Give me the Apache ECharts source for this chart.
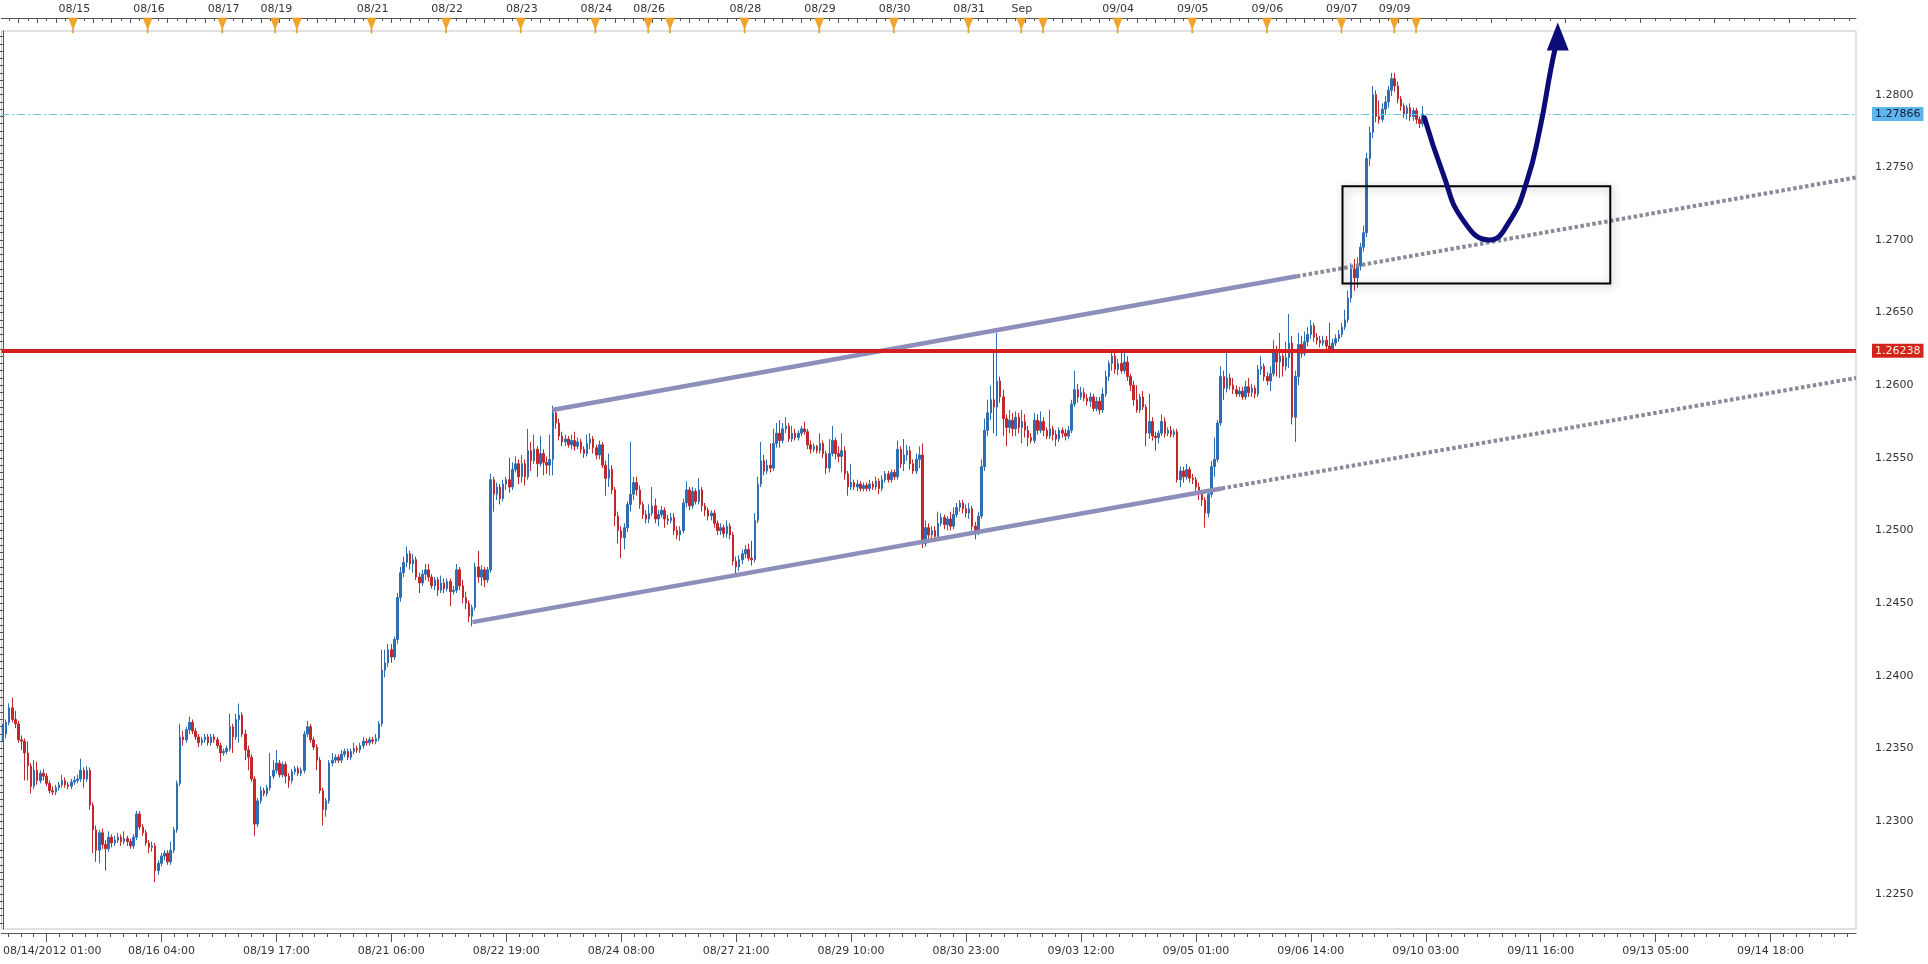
<!DOCTYPE html>
<html><head><meta charset="utf-8">
<script src="https://cdn.jsdelivr.net/npm/echarts@6/dist/echarts.min.js"></script>
<style>html,body{margin:0;padding:0;background:#fff}#c{width:1928px;height:964px}</style>
</head><body><div id="c"></div><script>
// ---- data ----
// hourly candles, first bar 08/14/2012 01:00 : [open, close, low, high]
const candles = [
[1.2356,1.2360,1.2355,1.2367],[1.2360,1.2368,1.2357,1.2370],[1.2368,1.2378,1.2366,1.2381],[1.2378,1.2370,1.2368,1.2385],[1.2370,1.2367,1.2364,1.2376],
[1.2367,1.2356,1.2354,1.2369],[1.2356,1.2355,1.2349,1.2359],[1.2355,1.2347,1.2328,1.2357],[1.2347,1.2338,1.2328,1.2355],[1.2338,1.2324,1.2319,1.2340],
[1.2324,1.2335,1.2322,1.2342],[1.2335,1.2328,1.2325,1.2341],[1.2328,1.2333,1.2326,1.2335],[1.2333,1.2331,1.2328,1.2336],[1.2331,1.2326,1.2324,1.2333],
[1.2326,1.2321,1.2319,1.2328],[1.2321,1.2320,1.2318,1.2324],[1.2320,1.2323,1.2318,1.2325],[1.2323,1.2325,1.2321,1.2327],[1.2325,1.2328,1.2323,1.2332],
[1.2328,1.2325,1.2323,1.2330],[1.2325,1.2324,1.2322,1.2327],[1.2324,1.2327,1.2322,1.2329],[1.2327,1.2328,1.2325,1.2331],[1.2328,1.2329,1.2326,1.2332],
[1.2329,1.2335,1.2327,1.2343],[1.2335,1.2329,1.2323,1.2337],[1.2329,1.2335,1.2327,1.2338],[1.2335,1.2311,1.2308,1.2337],[1.2311,1.2294,1.2278,1.2313],
[1.2294,1.2280,1.2272,1.2297],[1.2280,1.2292,1.2271,1.2294],[1.2292,1.2284,1.2281,1.2295],[1.2284,1.2281,1.2266,1.2287],[1.2281,1.2289,1.2279,1.2293],
[1.2289,1.2285,1.2282,1.2291],[1.2285,1.2287,1.2283,1.2290],[1.2287,1.2289,1.2285,1.2292],[1.2289,1.2286,1.2283,1.2291],[1.2286,1.2288,1.2284,1.2293],
[1.2288,1.2286,1.2283,1.2290],[1.2286,1.2283,1.2281,1.2288],[1.2283,1.2289,1.2281,1.2291],[1.2289,1.2305,1.2287,1.2307],[1.2305,1.2296,1.2294,1.2307],
[1.2296,1.2292,1.2290,1.2298],[1.2292,1.2285,1.2283,1.2294],[1.2285,1.2282,1.2278,1.2287],[1.2282,1.2283,1.2279,1.2286],[1.2283,1.2266,1.2258,1.2285],
[1.2266,1.2271,1.2263,1.2273],[1.2271,1.2276,1.2269,1.2278],[1.2276,1.2278,1.2273,1.2280],[1.2278,1.2272,1.2270,1.2280],[1.2272,1.2280,1.2270,1.2286],
[1.2280,1.2294,1.2278,1.2296],[1.2294,1.2326,1.2292,1.2328],[1.2326,1.2358,1.2324,1.2367],[1.2358,1.2356,1.2352,1.2362],[1.2356,1.2363,1.2354,1.2365],
[1.2363,1.2368,1.2360,1.2372],[1.2368,1.2362,1.2360,1.2370],[1.2362,1.2358,1.2356,1.2364],[1.2358,1.2354,1.2351,1.2360],[1.2354,1.2356,1.2352,1.2358],
[1.2356,1.2358,1.2354,1.2360],[1.2358,1.2354,1.2352,1.2360],[1.2354,1.2358,1.2352,1.2360],[1.2358,1.2356,1.2354,1.2360],[1.2356,1.2352,1.2350,1.2358],
[1.2352,1.2347,1.2341,1.2354],[1.2347,1.2348,1.2345,1.2350],[1.2348,1.2350,1.2346,1.2352],[1.2350,1.2365,1.2348,1.2374],[1.2365,1.2358,1.2347,1.2367],
[1.2358,1.2370,1.2356,1.2374],[1.2370,1.2373,1.2354,1.2381],[1.2373,1.2360,1.2358,1.2375],[1.2360,1.2349,1.2342,1.2363],[1.2349,1.2344,1.2335,1.2352],
[1.2344,1.2329,1.2327,1.2346],[1.2329,1.2298,1.2290,1.2331],[1.2298,1.2314,1.2296,1.2316],[1.2314,1.2321,1.2312,1.2324],[1.2321,1.2319,1.2317,1.2323],
[1.2319,1.2323,1.2317,1.2325],[1.2323,1.2331,1.2321,1.2347],[1.2331,1.2335,1.2329,1.2342],[1.2335,1.2340,1.2333,1.2349],[1.2340,1.2332,1.2330,1.2342],
[1.2332,1.2339,1.2330,1.2341],[1.2339,1.2331,1.2326,1.2341],[1.2331,1.2328,1.2323,1.2333],[1.2328,1.2334,1.2326,1.2336],[1.2334,1.2336,1.2332,1.2338],
[1.2336,1.2333,1.2331,1.2338],[1.2333,1.2335,1.2331,1.2337],[1.2335,1.2360,1.2333,1.2362],[1.2360,1.2365,1.2358,1.2369],[1.2365,1.2356,1.2354,1.2367],
[1.2356,1.2351,1.2349,1.2358],[1.2351,1.2342,1.2335,1.2353],[1.2342,1.2321,1.2319,1.2344],[1.2321,1.2308,1.2297,1.2323],[1.2308,1.2314,1.2303,1.2316],
[1.2314,1.2340,1.2312,1.2342],[1.2340,1.2342,1.2338,1.2347],[1.2342,1.2344,1.2340,1.2346],[1.2344,1.2342,1.2340,1.2346],[1.2342,1.2346,1.2340,1.2349],
[1.2346,1.2348,1.2344,1.2350],[1.2348,1.2344,1.2342,1.2350],[1.2344,1.2348,1.2342,1.2350],[1.2348,1.2350,1.2346,1.2354],[1.2350,1.2349,1.2347,1.2352],
[1.2349,1.2352,1.2347,1.2354],[1.2352,1.2355,1.2350,1.2358],[1.2355,1.2354,1.2352,1.2357],[1.2354,1.2356,1.2352,1.2358],[1.2356,1.2355,1.2353,1.2358],
[1.2355,1.2357,1.2353,1.2360],[1.2357,1.2367,1.2355,1.2369],[1.2367,1.2404,1.2365,1.2418],[1.2404,1.2409,1.2399,1.2418],[1.2409,1.2418,1.2406,1.2422],
[1.2418,1.2413,1.2409,1.2422],[1.2413,1.2425,1.2411,1.2427],[1.2425,1.2454,1.2422,1.2457],[1.2454,1.2471,1.2451,1.2475],[1.2471,1.2478,1.2468,1.2482],
[1.2478,1.2484,1.2475,1.2489],[1.2484,1.2477,1.2473,1.2486],[1.2477,1.2480,1.2471,1.2484],[1.2480,1.2468,1.2466,1.2482],[1.2468,1.2464,1.2457,1.2471],
[1.2464,1.2470,1.2462,1.2473],[1.2470,1.2473,1.2466,1.2477],[1.2473,1.2468,1.2465,1.2477],[1.2468,1.2462,1.2460,1.2470],[1.2462,1.2466,1.2459,1.2468],
[1.2466,1.2459,1.2455,1.2468],[1.2459,1.2464,1.2457,1.2469],[1.2464,1.2460,1.2457,1.2467],[1.2460,1.2465,1.2458,1.2467],[1.2465,1.2458,1.2448,1.2467],
[1.2458,1.2459,1.2456,1.2462],[1.2459,1.2473,1.2457,1.2477],[1.2473,1.2462,1.2459,1.2475],[1.2462,1.2454,1.2450,1.2466],[1.2454,1.2450,1.2446,1.2458],
[1.2450,1.2441,1.2437,1.2452],[1.2441,1.2447,1.2434,1.2449],[1.2447,1.2475,1.2445,1.2478],[1.2475,1.2468,1.2464,1.2486],[1.2468,1.2473,1.2462,1.2476],
[1.2473,1.2466,1.2461,1.2475],[1.2466,1.2473,1.2464,1.2475],[1.2473,1.2535,1.2471,1.2539],[1.2535,1.2525,1.2513,1.2537],[1.2525,1.2530,1.2521,1.2533],
[1.2530,1.2522,1.2518,1.2532],[1.2522,1.2532,1.2520,1.2535],[1.2532,1.2535,1.2528,1.2537],[1.2535,1.2530,1.2526,1.2550],[1.2530,1.2542,1.2528,1.2547],
[1.2542,1.2546,1.2540,1.2551],[1.2546,1.2537,1.2532,1.2549],[1.2537,1.2546,1.2533,1.2552],[1.2546,1.2537,1.2531,1.2549],[1.2537,1.2555,1.2535,1.2570],
[1.2555,1.2548,1.2541,1.2561],[1.2548,1.2556,1.2546,1.2566],[1.2556,1.2546,1.2537,1.2558],[1.2546,1.2553,1.2544,1.2565],[1.2553,1.2547,1.2538,1.2556],
[1.2547,1.2545,1.2539,1.2551],[1.2545,1.2549,1.2538,1.2566],[1.2549,1.2581,1.2538,1.2586],[1.2581,1.2574,1.2570,1.2585],[1.2574,1.2565,1.2562,1.2577],
[1.2565,1.2561,1.2558,1.2568],[1.2561,1.2563,1.2558,1.2566],[1.2563,1.2559,1.2557,1.2565],[1.2559,1.2562,1.2556,1.2566],[1.2562,1.2558,1.2555,1.2568],
[1.2558,1.2561,1.2556,1.2564],[1.2561,1.2556,1.2553,1.2563],[1.2556,1.2553,1.2550,1.2558],[1.2553,1.2560,1.2551,1.2566],[1.2560,1.2563,1.2556,1.2567],
[1.2563,1.2557,1.2553,1.2565],[1.2557,1.2552,1.2549,1.2559],[1.2552,1.2559,1.2549,1.2562],[1.2559,1.2545,1.2543,1.2561],[1.2545,1.2536,1.2524,1.2548],
[1.2536,1.2542,1.2530,1.2553],[1.2542,1.2528,1.2525,1.2545],[1.2528,1.2510,1.2503,1.2530],[1.2510,1.2500,1.2491,1.2513],[1.2500,1.2495,1.2481,1.2503],
[1.2495,1.2502,1.2487,1.2505],[1.2502,1.2518,1.2499,1.2520],[1.2518,1.2525,1.2513,1.2561],[1.2525,1.2533,1.2521,1.2537],[1.2533,1.2528,1.2524,1.2537],
[1.2528,1.2518,1.2515,1.2531],[1.2518,1.2511,1.2508,1.2520],[1.2511,1.2508,1.2505,1.2514],[1.2508,1.2512,1.2505,1.2518],[1.2512,1.2517,1.2510,1.2530],
[1.2517,1.2508,1.2505,1.2522],[1.2508,1.2511,1.2503,1.2514],[1.2511,1.2514,1.2509,1.2517],[1.2514,1.2508,1.2502,1.2516],[1.2508,1.2507,1.2504,1.2511],
[1.2507,1.2509,1.2505,1.2512],[1.2509,1.2500,1.2497,1.2512],[1.2500,1.2497,1.2494,1.2503],[1.2497,1.2500,1.2493,1.2503],[1.2500,1.2519,1.2498,1.2522],
[1.2519,1.2528,1.2516,1.2534],[1.2528,1.2517,1.2514,1.2530],[1.2517,1.2527,1.2515,1.2530],[1.2527,1.2520,1.2518,1.2529],[1.2520,1.2528,1.2518,1.2536],
[1.2528,1.2517,1.2513,1.2530],[1.2517,1.2514,1.2510,1.2519],[1.2514,1.2510,1.2507,1.2516],[1.2510,1.2512,1.2507,1.2514],[1.2512,1.2505,1.2502,1.2514],
[1.2505,1.2500,1.2497,1.2507],[1.2500,1.2502,1.2497,1.2505],[1.2502,1.2498,1.2495,1.2504],[1.2498,1.2503,1.2495,1.2507],[1.2503,1.2497,1.2494,1.2505],
[1.2497,1.2479,1.2476,1.2499],[1.2479,1.2475,1.2470,1.2482],[1.2475,1.2480,1.2472,1.2483],[1.2480,1.2484,1.2477,1.2487],[1.2484,1.2487,1.2481,1.2490],
[1.2487,1.2481,1.2479,1.2491],[1.2481,1.2480,1.2476,1.2493],[1.2480,1.2507,1.2478,1.2512],[1.2507,1.2532,1.2505,1.2537],[1.2532,1.2548,1.2530,1.2561],
[1.2548,1.2541,1.2538,1.2552],[1.2541,1.2545,1.2539,1.2549],[1.2545,1.2543,1.2540,1.2560],[1.2543,1.2560,1.2541,1.2570],[1.2560,1.2567,1.2557,1.2574],
[1.2567,1.2562,1.2557,1.2576],[1.2562,1.2570,1.2560,1.2574],[1.2570,1.2572,1.2567,1.2578],[1.2572,1.2563,1.2561,1.2574],[1.2563,1.2567,1.2561,1.2572],
[1.2567,1.2564,1.2562,1.2570],[1.2564,1.2567,1.2562,1.2569],[1.2567,1.2570,1.2565,1.2572],[1.2570,1.2568,1.2566,1.2575],[1.2568,1.2559,1.2556,1.2570],
[1.2559,1.2556,1.2553,1.2562],[1.2556,1.2558,1.2554,1.2560],[1.2558,1.2555,1.2553,1.2559],[1.2555,1.2560,1.2553,1.2567],[1.2560,1.2553,1.2550,1.2562],
[1.2553,1.2543,1.2539,1.2555],[1.2543,1.2553,1.2540,1.2563],[1.2553,1.2562,1.2551,1.2572],[1.2562,1.2553,1.2549,1.2564],[1.2553,1.2551,1.2547,1.2558],
[1.2551,1.2555,1.2540,1.2567],[1.2555,1.2539,1.2535,1.2558],[1.2539,1.2530,1.2524,1.2541],[1.2530,1.2533,1.2528,1.2546],[1.2533,1.2530,1.2528,1.2535],
[1.2530,1.2532,1.2527,1.2535],[1.2532,1.2529,1.2527,1.2534],[1.2529,1.2531,1.2527,1.2533],[1.2531,1.2529,1.2527,1.2533],[1.2529,1.2532,1.2527,1.2535],
[1.2532,1.2530,1.2528,1.2534],[1.2530,1.2534,1.2528,1.2537],[1.2534,1.2529,1.2525,1.2536],[1.2529,1.2535,1.2527,1.2538],[1.2535,1.2539,1.2533,1.2541],
[1.2539,1.2535,1.2533,1.2541],[1.2535,1.2540,1.2533,1.2542],[1.2540,1.2537,1.2535,1.2542],[1.2537,1.2556,1.2535,1.2562],[1.2556,1.2546,1.2543,1.2558],
[1.2546,1.2552,1.2541,1.2563],[1.2552,1.2555,1.2548,1.2559],[1.2555,1.2546,1.2542,1.2558],[1.2546,1.2541,1.2539,1.2549],[1.2541,1.2549,1.2539,1.2553],
[1.2549,1.2552,1.2543,1.2558],[1.2552,1.2491,1.2488,1.2560],[1.2491,1.2502,1.2489,1.2507],[1.2502,1.2497,1.2494,1.2505],[1.2497,1.2500,1.2494,1.2503],
[1.2500,1.2496,1.2493,1.2503],[1.2496,1.2505,1.2494,1.2513],[1.2505,1.2509,1.2503,1.2512],[1.2509,1.2504,1.2501,1.2511],[1.2504,1.2508,1.2500,1.2510],
[1.2508,1.2503,1.2500,1.2513],[1.2503,1.2511,1.2501,1.2516],[1.2511,1.2516,1.2509,1.2519],[1.2516,1.2519,1.2513,1.2521],[1.2519,1.2515,1.2512,1.2521],
[1.2515,1.2512,1.2509,1.2518],[1.2512,1.2515,1.2508,1.2519],[1.2515,1.2503,1.2500,1.2517],[1.2503,1.2500,1.2494,1.2506],[1.2500,1.2510,1.2497,1.2513],
[1.2510,1.2544,1.2508,1.2549],[1.2544,1.2569,1.2541,1.2577],[1.2569,1.2581,1.2565,1.2590],[1.2581,1.2590,1.2576,1.2600],[1.2590,1.2585,1.2567,1.2624],
[1.2585,1.2603,1.2565,1.2636],[1.2603,1.2592,1.2588,1.2606],[1.2592,1.2577,1.2565,1.2597],[1.2577,1.2571,1.2558,1.2580],[1.2571,1.2576,1.2567,1.2583],
[1.2576,1.2570,1.2565,1.2581],[1.2570,1.2578,1.2565,1.2582],[1.2578,1.2571,1.2567,1.2581],[1.2571,1.2575,1.2560,1.2583],[1.2575,1.2569,1.2564,1.2580],
[1.2569,1.2564,1.2558,1.2572],[1.2564,1.2562,1.2560,1.2567],[1.2562,1.2576,1.2560,1.2581],[1.2576,1.2569,1.2566,1.2580],[1.2569,1.2575,1.2567,1.2582],
[1.2575,1.2569,1.2565,1.2578],[1.2569,1.2565,1.2563,1.2571],[1.2565,1.2570,1.2563,1.2583],[1.2570,1.2566,1.2562,1.2572],[1.2566,1.2563,1.2558,1.2569],
[1.2563,1.2569,1.2561,1.2571],[1.2569,1.2567,1.2564,1.2571],[1.2567,1.2565,1.2562,1.2570],[1.2565,1.2569,1.2563,1.2572],[1.2569,1.2587,1.2567,1.2590],
[1.2587,1.2597,1.2585,1.2610],[1.2597,1.2592,1.2588,1.2601],[1.2592,1.2595,1.2590,1.2599],[1.2595,1.2591,1.2589,1.2598],[1.2591,1.2589,1.2586,1.2594],
[1.2589,1.2592,1.2585,1.2595],[1.2592,1.2584,1.2582,1.2594],[1.2584,1.2589,1.2582,1.2592],[1.2589,1.2583,1.2580,1.2592],[1.2583,1.2594,1.2581,1.2598],
[1.2594,1.2606,1.2592,1.2610],[1.2606,1.2615,1.2603,1.2617],[1.2615,1.2620,1.2610,1.2625],[1.2620,1.2611,1.2608,1.2624],[1.2611,1.2615,1.2607,1.2618],
[1.2615,1.2610,1.2608,1.2624],[1.2610,1.2616,1.2608,1.2623],[1.2616,1.2606,1.2603,1.2620],[1.2606,1.2600,1.2596,1.2608],[1.2600,1.2590,1.2586,1.2603],
[1.2590,1.2583,1.2581,1.2600],[1.2583,1.2592,1.2581,1.2594],[1.2592,1.2585,1.2583,1.2596],[1.2585,1.2567,1.2558,1.2587],[1.2567,1.2575,1.2563,1.2594],
[1.2575,1.2565,1.2562,1.2578],[1.2565,1.2564,1.2555,1.2568],[1.2564,1.2567,1.2560,1.2569],[1.2567,1.2575,1.2565,1.2580],[1.2575,1.2567,1.2564,1.2578],
[1.2567,1.2569,1.2565,1.2571],[1.2569,1.2566,1.2564,1.2572],[1.2566,1.2568,1.2564,1.2570],[1.2568,1.2535,1.2533,1.2570],[1.2535,1.2541,1.2530,1.2544],
[1.2541,1.2537,1.2533,1.2544],[1.2537,1.2542,1.2535,1.2546],[1.2542,1.2536,1.2533,1.2544],[1.2536,1.2535,1.2532,1.2539],[1.2535,1.2530,1.2526,1.2537],
[1.2530,1.2526,1.2521,1.2533],[1.2526,1.2521,1.2517,1.2528],[1.2521,1.2512,1.2502,1.2523],[1.2512,1.2525,1.2509,1.2527],[1.2525,1.2544,1.2523,1.2548],
[1.2544,1.2549,1.2537,1.2564],[1.2549,1.2574,1.2547,1.2576],[1.2574,1.2606,1.2572,1.2613],[1.2606,1.2598,1.2590,1.2610],[1.2598,1.2605,1.2595,1.2624],
[1.2605,1.2600,1.2597,1.2608],[1.2600,1.2597,1.2594,1.2605],[1.2597,1.2594,1.2592,1.2600],[1.2594,1.2596,1.2592,1.2599],[1.2596,1.2592,1.2590,1.2599],
[1.2592,1.2599,1.2590,1.2603],[1.2599,1.2595,1.2592,1.2605],[1.2595,1.2598,1.2592,1.2601],[1.2598,1.2594,1.2591,1.2600],[1.2594,1.2611,1.2592,1.2614],
[1.2611,1.2613,1.2607,1.2620],[1.2613,1.2606,1.2603,1.2615],[1.2606,1.2603,1.2600,1.2609],[1.2603,1.2608,1.2596,1.2613],[1.2608,1.2624,1.2606,1.2631],
[1.2624,1.2616,1.2606,1.2627],[1.2616,1.2620,1.2605,1.2636],[1.2620,1.2613,1.2606,1.2622],[1.2613,1.2619,1.2610,1.2630],[1.2619,1.2629,1.2612,1.2649],
[1.2629,1.2578,1.2573,1.2634],[1.2578,1.2606,1.2561,1.2610],[1.2606,1.2628,1.2600,1.2636],[1.2628,1.2622,1.2619,1.2634],[1.2622,1.2630,1.2620,1.2637],
[1.2630,1.2635,1.2627,1.2640],[1.2635,1.2641,1.2632,1.2645],[1.2641,1.2633,1.2630,1.2643],[1.2633,1.2631,1.2628,1.2636],[1.2631,1.2629,1.2626,1.2634],
[1.2629,1.2631,1.2627,1.2634],[1.2631,1.2627,1.2624,1.2634],[1.2627,1.2625,1.2622,1.2643],[1.2625,1.2629,1.2623,1.2632],[1.2629,1.2632,1.2627,1.2635],
[1.2632,1.2635,1.2630,1.2638],[1.2635,1.2640,1.2633,1.2643],[1.2640,1.2645,1.2638,1.2652],[1.2645,1.2660,1.2643,1.2665],[1.2660,1.2680,1.2657,1.2684],
[1.2680,1.2674,1.2665,1.2687],[1.2674,1.2682,1.2667,1.2688],[1.2682,1.2695,1.2679,1.2698],[1.2695,1.2705,1.2692,1.2710],[1.2705,1.2756,1.2702,1.2760],
[1.2756,1.2774,1.2751,1.2778],[1.2774,1.2800,1.2770,1.2806],[1.2800,1.2785,1.2781,1.2803],[1.2785,1.2783,1.2780,1.2796],[1.2783,1.2790,1.2781,1.2794],
[1.2790,1.2795,1.2786,1.2799],[1.2795,1.2803,1.2791,1.2806],[1.2803,1.2811,1.2799,1.2815],[1.2811,1.2806,1.2802,1.2815],[1.2806,1.2797,1.2794,1.2809],
[1.2797,1.2792,1.2789,1.2799],[1.2792,1.2787,1.2784,1.2794],[1.2787,1.2791,1.2783,1.2793],[1.2791,1.2785,1.2782,1.2794],[1.2785,1.2789,1.2782,1.2791],
[1.2789,1.2783,1.2780,1.2791],[1.2783,1.2780,1.2777,1.2785],[1.2780,1.27866,1.2778,1.2792]
];
const CAT_COUNT = 597;                 // hourly slots shown on the time axis (incl. empty future)
const supportLevel = 1.26238;          // red horizontal line
const lastPrice = 1.27866;             // current price (dashed line)
// channel lines [barIndex, price]
const upperSolid  = [[176.8, 1.2583], [416.5, 1.2675]];
const upperDotted = [[416.5, 1.2675], [596.5, 1.2743]];
const lowerSolid  = [[151.1, 1.2437], [392.3, 1.2529]];
const lowerDotted = [[392.3, 1.2529], [596.5, 1.2605]];
// target box [barIndex, price] corners
const boxFrom = [431.2, 1.2737];
const boxTo   = [517.4, 1.2670];
// projected path (navy)
const pathPoints = [[457.6,1.2784],[463.5,1.2746],[469.9,1.2714],[478.5,1.2700],[485.0,1.2713],
  [490.5,1.2740],[494.7,1.2776],[498.3,1.2818],[499.8,1.2833]];
const arrowTip = [[500.5, 1.2840]];
// axis labels
const bottomLabelIdx  = [51,88,125,162,199,236,273,310,347,384,421,458,495,532,569];
const bottomLabelText = ['08/16 04:00','08/19 17:00','08/21 06:00','08/22 19:00','08/24 08:00','08/27 21:00','08/29 10:00',
  '08/30 23:00','09/03 12:00','09/05 01:00','09/06 14:00','09/10 03:00','09/11 16:00','09/13 05:00','09/14 18:00'];
const firstLabelText = '08/14/2012 01:00';
const topMarkIdx  = [23,47,71,88,95,119,143,167,191,208,215,239,263,287,311,328,335,359,383,407,431,448,455];
const topMarkText = ['08/15','08/16','08/17','08/19','','08/21','08/22','08/23','08/24','08/26','','08/28','08/29','08/30','08/31','Sep','','09/04','09/05','09/06','09/07','09/09',''];
const yTickValues = [1.2250,1.2300,1.2350,1.2400,1.2450,1.2500,1.2550,1.2600,1.2650,1.2700,1.2750,1.2800];
const Y_MIN = 1.22258, Y_MAX = 1.28438;

// ---- categories (hourly, weekend hours skipped inside traded data) ----
const LAST_BAR = candles.length - 1;
const categories = [], catHour = [];
(function(){
  let t = Date.UTC(2012, 7, 14, 1);
  const p = n => (n < 10 ? '0' : '') + n;
  while (categories.length < CAT_COUNT) {
    const d = new Date(t), wd = d.getUTCDay(), h = d.getUTCHours();
    const weekend = (wd === 5 && h >= 17) || wd === 6 || (wd === 0 && h < 17);
    if (!(weekend && categories.length <= LAST_BAR)) {
      categories.push(p(d.getUTCMonth()+1) + '/' + p(d.getUTCDate()) + ' ' + p(h) + ':00');
      catHour.push(h);
    }
    t += 3600000;
  }
})();
const X_MIN = -0.5, X_MAX = CAT_COUNT - 0.5;

// tick positions
const bottomMajor = [], bottomMinor = [];
for (let k = -3; ; k++) { const v = 14 + k * 37 / 9; if (v > X_MAX) break; if (v < X_MIN) continue; (k % 9 === 0 ? bottomMajor : bottomMinor).push(v); }
const topTall = [], topShort = [];
for (let i = 0; i <= LAST_BAR; i++) { if (catHour[i] % 6 === 0) topTall.push(i); else if (catHour[i] % 3 === 0) topShort.push(i); }
for (let d = 455; d < X_MAX; d += 24) { if (d > LAST_BAR) topTall.push(d); for (let m = 1; m < 5; m++) { const v = d + m * 4.8; if (v > LAST_BAR && v < X_MAX) topShort.push(v); } }
const yMinor = []; for (let v = 1.2230; v < Y_MAX; v += 0.0005) yMinor.push(+v.toFixed(4));

const FONT = 'DejaVu Sans';
const TXT = {color: '#333', fontFamily: FONT, fontSize: 11};
const bottomMap = new Map(bottomLabelIdx.map((v, i) => [v, bottomLabelText[i]]));
const topLabIdx = topMarkIdx.filter((v, i) => topMarkText[i] !== '');
const topMap = new Map(topMarkIdx.map((v, i) => [v, topMarkText[i]]));
const navy = '#0c0c78';

const chart = echarts.init(document.getElementById('c'), null, {renderer: 'canvas'});
chart.setOption({
  animation: false,
  backgroundColor: '#ffffff',
  grid: [
    {left: 0, right: 72, top: 31, bottom: 35, show: true, borderColor: '#c4c4c4', borderWidth: 1, backgroundColor: '#fff'},
    {left: 0, right: 72, top: 18, height: 15, show: false}
  ],
  xAxis: [
    {type: 'category', gridIndex: 0, data: categories, boundaryGap: true, show: false},
    {type: 'value', gridIndex: 0, min: X_MIN, max: X_MAX, position: 'bottom', offset: 4,
     axisLine: {show: true, lineStyle: {color: '#555'}},
     axisTick: {show: true, customValues: bottomMajor, length: 9, lineStyle: {color: '#555'}},
     axisLabel: Object.assign({customValues: bottomLabelIdx, margin: 13, formatter: v => bottomMap.get(Math.round(v)) || ''}, TXT),
     splitLine: {show: false}},
    {type: 'value', gridIndex: 0, min: X_MIN, max: X_MAX, position: 'bottom', offset: 4,
     axisLine: {show: false},
     axisTick: {show: true, customValues: bottomMinor, length: 4, lineStyle: {color: '#555'}},
     axisLabel: Object.assign({customValues: [0], align: 'left', margin: 13, formatter: () => firstLabelText}, TXT),
     splitLine: {show: false}},
    {type: 'value', gridIndex: 0, min: X_MIN, max: X_MAX, position: 'top', offset: 13,
     axisLine: {show: true, lineStyle: {color: '#555'}},
     axisTick: {show: true, inside: true, customValues: topTall, length: 5, lineStyle: {color: '#555'}},
     axisLabel: Object.assign({customValues: topLabIdx, margin: 3, formatter: v => topMap.get(Math.round(v)) || ''}, TXT),
     splitLine: {show: false}},
    {type: 'value', gridIndex: 0, min: X_MIN, max: X_MAX, position: 'top', offset: 13,
     axisLine: {show: false},
     axisTick: {show: true, inside: true, customValues: topShort, length: 3, lineStyle: {color: '#555'}},
     axisLabel: {show: false}, splitLine: {show: false}},
    {type: 'value', gridIndex: 1, min: X_MIN, max: X_MAX, show: false}
  ],
  yAxis: [
    {type: 'value', gridIndex: 0, position: 'right', offset: 15, min: Y_MIN, max: Y_MAX,
     axisLine: {show: true, lineStyle: {color: '#555'}},
     axisTick: {show: true, inside: true, customValues: yTickValues, length: 14, lineStyle: {color: '#555'}},
     axisLabel: Object.assign({customValues: yTickValues, margin: 4, showMaxLabel: true, showMinLabel: true, formatter: v => v.toFixed(4)}, TXT),
     splitLine: {show: false}},
    {type: 'value', gridIndex: 0, position: 'right', offset: 15, min: Y_MIN, max: Y_MAX,
     axisLine: {show: false},
     axisTick: {show: true, inside: true, customValues: yMinor, length: 5, lineStyle: {color: '#555'}},
     axisLabel: {show: false}, splitLine: {show: false}},
    {type: 'value', gridIndex: 1, min: 0, max: 1, show: false}
  ],
  series: [
    {type: 'candlestick', xAxisIndex: 0, yAxisIndex: 0, data: candles, barWidth: 2, z: 2,
     itemStyle: {color: '#2d6db4', color0: '#c1272d', borderColor: '#2d6db4', borderColor0: '#c1272d', borderWidth: 1}},
    {type: 'line', xAxisIndex: 1, yAxisIndex: 0, data: upperSolid, symbol: 'none', silent: true, z: 3,
     lineStyle: {color: '#8e8ebb', width: 4.5}},
    {type: 'line', xAxisIndex: 1, yAxisIndex: 0, data: lowerSolid, symbol: 'none', silent: true, z: 3,
     lineStyle: {color: '#8e8ebb', width: 4.5}},
    {type: 'line', xAxisIndex: 1, yAxisIndex: 0, data: upperDotted, symbol: 'none', silent: true, z: 3,
     lineStyle: {color: '#8a8a99', width: 4, type: [3.5, 2.5]}},
    {type: 'line', xAxisIndex: 1, yAxisIndex: 0, data: lowerDotted, symbol: 'none', silent: true, z: 3,
     lineStyle: {color: '#8a8a99', width: 4, type: [3.5, 2.5]},
     markLine: {silent: true, symbol: 'none', precision: 5, z: 4, data: [
       {yAxis: supportLevel, lineStyle: {color: '#d41f1f', width: 4, type: 'solid'},
        label: {show: true, position: 'end', distance: 16, formatter: supportLevel.toFixed(5), backgroundColor: '#d3241c',
                color: '#ffeedd', fontFamily: FONT, fontSize: 11, padding: [2, 3, 1, 3]}},
       {yAxis: lastPrice, lineStyle: {color: '#6cc4e6', width: 1, type: [8, 3, 2, 3]},
        label: {show: true, position: 'end', distance: 16, formatter: lastPrice.toFixed(5), backgroundColor: '#5fb6ee',
                color: '#0e1c3a', fontFamily: FONT, fontSize: 11, padding: [2, 3, 1, 3]}}
     ]},
     markArea: {silent: true, z: 4, itemStyle: {color: 'rgba(0,0,0,0)', borderColor: '#000', borderWidth: 2,
       shadowBlur: 8, shadowColor: 'rgba(0,0,0,0.35)', shadowOffsetX: 2, shadowOffsetY: 2},
       data: [[{coord: boxFrom}, {coord: boxTo}]]}},
    {type: 'line', xAxisIndex: 1, yAxisIndex: 0, data: pathPoints, smooth: 0.5, symbol: 'none', silent: true, clip: false, z: 6,
     lineStyle: {color: navy, width: 5, cap: 'round', join: 'round'}},
    {type: 'scatter', xAxisIndex: 1, yAxisIndex: 0, data: arrowTip, symbol: 'triangle', symbolSize: [22, 28], clip: false, silent: true, z: 6,
     itemStyle: {color: navy, opacity: 1}},
    {type: 'scatter', xAxisIndex: 5, yAxisIndex: 2, data: topMarkIdx.map(i => [i, 0.5]), silent: true, z: 5,
     symbol: 'path://M0,0 L9,0 L5,10 L5,15 L4,15 L4,10 Z', symbolSize: [9, 15],
     itemStyle: {color: '#f2a52a', borderColor: '#e08e12', borderWidth: 0.5, opacity: 1}}
  ]
});
</script></body></html>
